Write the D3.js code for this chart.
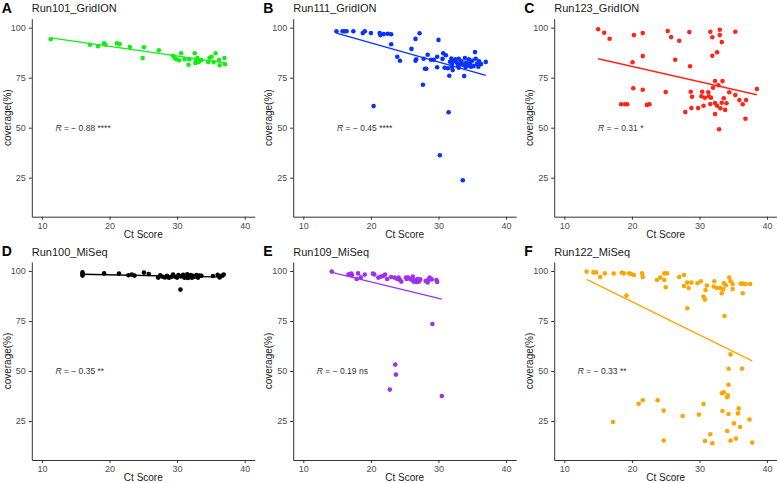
<!DOCTYPE html>
<html>
<head>
<meta charset="utf-8">
<script src="https://cdn.jsdelivr.net/npm/d3@7"></script>
<style>
  body { margin: 0; background: #fff; }
  svg { display: block; font-family: "Liberation Sans", Arial, sans-serif; }
</style>
</head>
<body>
<svg width="777" height="483"></svg>
<script>
// panel labels, titles and colours
var letters = ["A", "B", "C", "D", "E", "F"];
var titles = ["Run101_GridION", "Run111_GridION", "Run123_GridION", "Run100_MiSeq", "Run109_MiSeq", "Run122_MiSeq"];
var colors = ["#11ee11", "#0a32ff", "#ff2418", "#000000", "#a030f0", "#ffa500"];
var rLabels = ["\u2212 0.88 ****", "\u2212 0.45 ****", "\u2212 0.31 *", "\u2212 0.35 **", "\u2212 0.19 ns", "\u2212 0.33 **"];
var rLabelX = [12, 15, 15, 12, 12, 12];
var xTicks = [10, 20, 30, 40];
var yTicks = [25, 50, 75, 100];

// [Ct score, coverage %]
var run101 = [[11.3,94.2],[17.1,91.5],[18.3,90.7],[19.2,92.2],[19.4,91.5],[21.1,92.2],[21.5,91.8],[23.0,90.3],[24.9,84.8],[25.1,90.2],
  [27.3,88.7],[29.4,86.0],[29.7,84.7],[29.9,84.2],[30.3,83.7],[30.6,87.2],[31.1,84.2],[31.7,81.5],[31.8,84.2],[32.6,87.2],
  [32.7,82.3],[32.8,83.8],[33.0,84.8],[33.2,82.8],[33.3,83.5],[33.6,83.8],[34.6,82.8],[34.8,85.0],[35.1,85.5],[35.4,82.8],
  [35.7,87.2],[36.2,83.8],[36.3,81.2],[37.0,84.8],[37.1,81.7]];

var run111 = [[14.9,98.2],[15.8,98.2],[16.1,98.2],[16.4,98.2],[17.4,98.2],[18.8,97.3],[19.1,98.2],[20.0,97.3],[20.4,60.8],[21.3,97.3],
  [21.4,96.3],[21.9,96.8],[22.5,97.0],[23.0,96.7],[23.0,91.7],[23.9,85.5],[24.3,83.5],[26.0,89.4],[26.6,94.4],[26.6,83.5],
  [26.7,84.2],[27.2,97.2],[27.7,71.5],[27.8,84.5],[28.0,79.5],[28.2,79.5],[28.4,86.5],[28.9,84.0],[29.3,84.0],[29.8,85.5],
  [29.8,80.2],[30.0,93.9],[30.2,36.2],[30.6,84.4],[30.7,87.2],[30.9,80.0],[31.1,86.2],[31.4,79.7],[31.5,57.7],[31.6,76.0],
  [31.7,83.0],[31.9,84.6],[32.0,82.0],[32.0,80.5],[32.1,78.8],[32.3,83.5],[32.5,84.2],[32.7,82.5],[32.9,81.0],[33.0,84.5],
  [33.0,80.0],[33.2,82.0],[33.4,83.2],[33.6,23.7],[33.6,81.5],[33.8,75.8],[33.9,84.8],[34.0,80.3],[34.1,82.5],[34.3,81.0],
  [34.5,84.2],[34.7,82.3],[34.8,80.5],[35.0,83.5],[35.2,80.8],[35.4,87.8],[35.5,84.5],[35.7,82.0],[35.9,80.5],[36.0,83.2],
  [36.3,81.8],[37.0,82.9]];

var run123 = [[15.0,99.2],[15.9,97.5],[16.7,94.5],[18.4,61.7],[19.0,61.7],[19.3,61.7],[20.1,82.7],[20.2,69.7],[20.3,96.3],[21.6,97.3],
  [21.6,85.8],[21.6,69.0],[22.2,61.4],[22.6,61.7],[25.0,67.8],[25.3,98.3],[25.8,95.3],[26.4,84.0],[27.0,93.5],[27.9,57.8],
  [28.5,97.8],[28.6,80.7],[28.7,68.0],[28.8,59.8],[28.9,65.5],[29.8,59.8],[30.3,65.7],[30.4,68.0],[30.6,61.0],[30.8,65.0],
  [31.3,67.7],[31.4,65.7],[31.6,61.8],[31.7,65.0],[31.6,98.0],[31.9,95.2],[31.9,86.0],[32.0,70.0],[32.3,73.3],[32.3,62.3],
  [32.3,56.8],[32.6,87.7],[32.6,61.0],[32.8,71.2],[33.0,99.0],[33.0,96.3],[32.9,49.2],[33.1,59.7],[33.3,92.8],[33.3,62.5],
  [33.4,73.3],[33.6,64.7],[33.8,58.9],[34.0,62.2],[34.4,67.7],[35.3,66.3],[35.3,98.0],[35.9,63.8],[36.4,61.7],[36.9,63.8],
  [36.8,54.5],[38.5,69.3]];

var run100 = [[16.0,99.3],[16.0,98.5],[16.0,97.7],[19.2,98.8],[21.4,98.7],[22.8,97.9],[23.3,98.2],[23.7,97.7],[25.1,99.2],[25.8,98.5],
  [27.2,96.7],[27.5,97.8],[27.8,97.2],[28.2,96.8],[28.5,97.6],[28.8,96.6],[29.1,97.0],[29.4,98.2],[29.7,97.1],[30.0,96.7],
  [30.2,98.0],[30.5,90.7],[30.6,97.3],[30.9,98.1],[31.1,96.6],[31.3,97.5],[31.5,98.3],[31.6,96.5],[31.8,97.2],[32.0,98.0],
  [32.2,96.6],[32.4,97.6],[32.6,97.1],[32.9,98.0],[33.1,96.7],[33.3,97.7],[33.6,97.6],[35.3,97.5],[36.0,98.1],[36.3,96.8],
  [36.6,97.6],[36.9,98.2]];

var run109 = [[14.2,99.7],[16.7,98.3],[17.1,98.7],[17.2,98.0],[17.9,96.0],[18.1,98.8],[18.5,96.8],[19.1,98.2],[20.3,98.7],[20.5,98.3],
  [21.1,96.7],[21.5,97.2],[21.8,97.5],[22.1,98.2],[22.4,96.0],[23.0,97.0],[23.5,96.7],[23.9,96.0],[24.1,96.7],[24.3,95.5],
  [24.5,94.7],[25.2,96.7],[25.3,96.0],[25.5,96.7],[25.9,95.8],[26.2,97.2],[26.3,94.7],[26.5,95.5],[26.7,94.5],[26.9,96.0],
  [27.1,94.7],[27.3,95.8],[28.1,95.0],[28.4,94.3],[28.5,95.7],[28.7,96.7],[29.0,95.8],[29.1,73.5],[29.7,95.5],[29.8,94.5],
  [22.8,40.7],[23.6,53.2],[23.7,48.2],[30.5,37.5]];

var run122 = [[13.3,99.7],[14.3,99.3],[14.7,99.3],[15.3,97.0],[16.0,98.8],[17.3,98.7],[18.5,99.2],[18.8,98.8],[19.2,87.7],[19.6,98.8],
  [19.9,98.5],[20.3,98.0],[21.5,98.8],[21.6,97.0],[23.7,95.5],[24.2,96.7],[24.8,95.5],[24.8,98.8],[25.2,98.8],[25.0,91.9],
  [27.0,97.0],[27.7,98.0],[27.7,92.5],[28.2,81.4],[28.2,94.2],[28.8,94.2],[28.4,91.5],[29.7,93.9],[30.2,94.9],[30.6,87.2],
  [30.8,85.7],[30.9,90.5],[31.1,92.7],[32.2,94.9],[32.1,92.2],[32.6,91.5],[33.1,91.5],[33.3,88.9],[33.5,90.9],[33.6,94.0],
  [33.9,92.9],[33.7,77.5],[34.4,96.7],[34.6,94.9],[34.9,93.5],[34.9,91.0],[36.1,93.7],[36.4,93.7],[36.8,93.5],[36.4,88.9],
  [37.5,93.5],
  [34.6,58.3],[34.3,51.1],[36.3,51.2],[34.3,43.1],[33.3,38.9],[33.6,39.3],[34.2,37.8],[34.1,36.9],[21.0,33.6],[21.6,35.4],
  [23.8,35.4],[24.7,30.2],[17.2,24.5],[24.7,15.2],[27.5,27.5],[29.9,28.2],[30.6,33.5],[30.8,15.0],[31.6,18.4],[31.9,13.9],
  [33.4,30.0],[34.3,28.5],[35.8,31.3],[35.7,28.8],[35.1,23.8],[36.0,22.0],[34.1,20.0],[34.6,15.2],[35.4,16.2],[37.4,25.7],
  [37.8,14.2]];

var runs = [run101, run111, run123, run100, run109, run122];

// layout
var colLeft = [31.8, 293.2, 554.2];
var rowTop = [18.7, 262];
var pw = 223, ph = 198;

var svg = d3.select("svg");

// least squares fit
function fit(pts) {
  var mx = d3.mean(pts, function (d) { return d[0]; }),
      my = d3.mean(pts, function (d) { return d[1]; });
  var sxy = d3.sum(pts, function (d) { return (d[0] - mx) * (d[1] - my); }),
      sxx = d3.sum(pts, function (d) { return (d[0] - mx) * (d[0] - mx); });
  var b = sxy / sxx;
  return {a: my - b * mx, b: b};
}

runs.forEach(function (pts, i) {
  var left = colLeft[i % 3], top = rowTop[Math.floor(i / 3)];
  var g = svg.append("g").attr("transform", "translate(" + left + "," + top + ")");

  var x = d3.scaleLinear().domain([8.5, 41.5]).range([0, pw]);
  var y = d3.scaleLinear().domain([5.5, 104.5]).range([ph, 0]);

  // points
  g.selectAll(".pt")
    .data(pts)
    .enter().append("circle")
    .attr("class", "pt")
    .attr("cx", function (d) { return x(d[0]); })
    .attr("cy", function (d) { return y(d[1]); })
    .attr("r", 2.3)
    .attr("fill", colors[i]);

  // regression line
  var f = fit(pts);
  var ext = d3.extent(pts, function (d) { return d[0]; });
  g.append("path")
    .datum(ext)
    .attr("d", d3.line()
      .x(function (d) { return x(d); })
      .y(function (d) { return y(f.a + f.b * d); }))
    .attr("stroke", colors[i])
    .attr("stroke-width", 1.4)
    .attr("fill", "none");

  // axes
  var xa = g.append("g")
    .attr("transform", "translate(0," + ph + ")")
    .call(d3.axisBottom(x).tickValues(xTicks).tickSize(3).tickSizeOuter(0).tickPadding(2.5));
  var ya = g.append("g")
    .call(d3.axisLeft(y).tickValues(yTicks).tickSize(3).tickSizeOuter(0).tickPadding(3));
  [xa, ya].forEach(function (a) {
    a.select(".domain").attr("stroke", "#333").attr("stroke-width", 1);
    a.selectAll(".tick line").attr("stroke", "#333");
    a.selectAll(".tick text").attr("fill", "#4d4d4d").style("font-size", "9px")
      .style("font-family", "'Liberation Sans', Arial, sans-serif");
  });

  // R label
  var rl = g.append("text")
    .attr("x", x(rLabelX[i]))
    .attr("y", y(50))
    .attr("dy", "0.35em")
    .attr("fill", "#333")
    .style("font-size", "8.5px");
  rl.append("tspan").style("font-style", "italic").text("R");
  rl.append("tspan").text(" = " + rLabels[i]);

  // axis titles
  g.append("text")
    .attr("x", pw / 2)
    .attr("y", ph + 21)
    .attr("text-anchor", "middle")
    .attr("fill", "#222")
    .style("font-size", "10px")
    .text("Ct Score");
  g.append("text")
    .attr("transform", "translate(-21," + (ph / 2) + ") rotate(-90)")
    .attr("text-anchor", "middle")
    .attr("fill", "#222")
    .style("font-size", "10px")
    .text("coverage(%)");

  // panel title and letter
  g.append("text")
    .attr("x", 0)
    .attr("y", -6.5)
    .attr("fill", "#1a1a1a")
    .style("font-size", "11px")
    .text(titles[i]);
  g.append("text")
    .attr("x", -30)
    .attr("y", -6)
    .attr("fill", "#000")
    .style("font-size", "14px")
    .style("font-weight", "bold")
    .text(letters[i]);
});
</script>
</body>
</html>
